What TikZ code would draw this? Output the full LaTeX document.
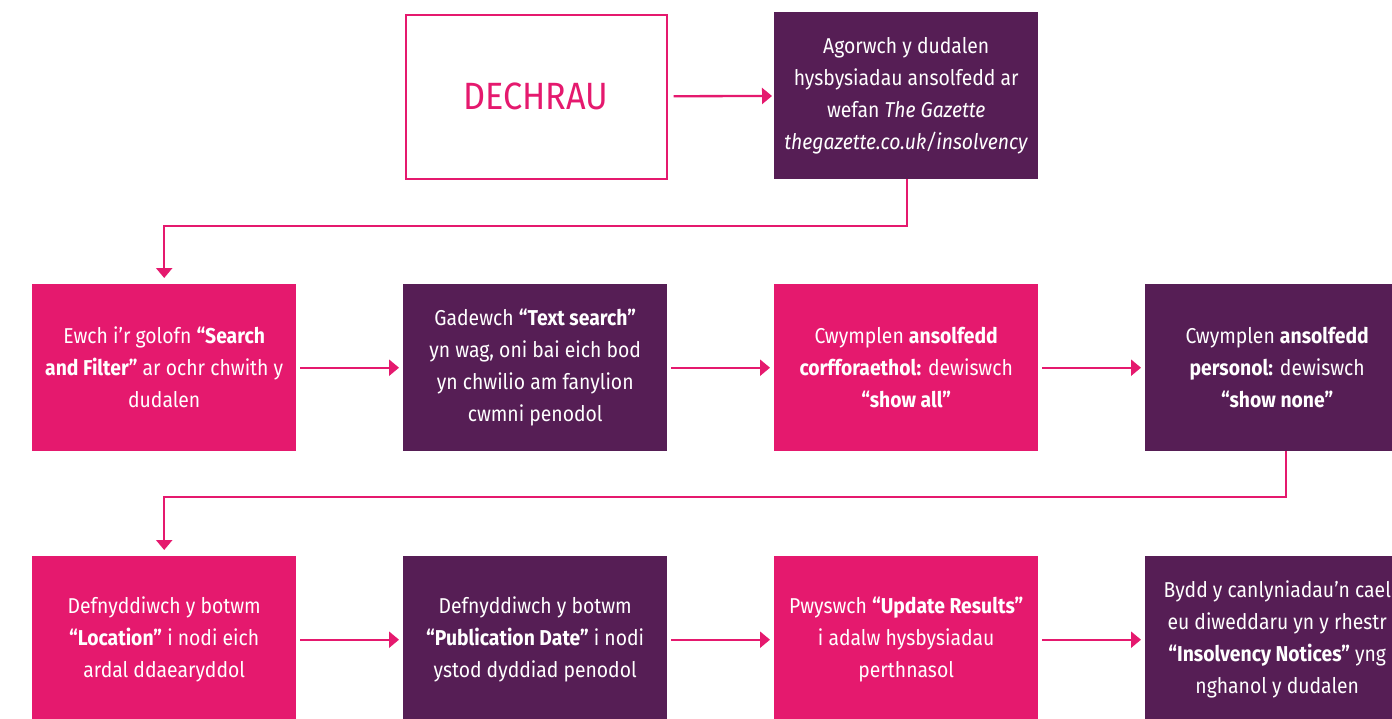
\documentclass[tikz,border=0pt]{standalone}
\usepackage{fontspec}
\setmainfont{Fira Sans}[FakeStretch=0.9]
\usetikzlibrary{arrows.meta,positioning}
\definecolor{pinkc}{HTML}{E5196E}
\definecolor{purplec}{HTML}{561E55}
\tikzset{
  base/.style={rectangle, minimum width=264pt, minimum height=167pt, inner sep=0pt, anchor=north west,
    align=center, text=white, font=\fontsize{21.5}{32}\selectfont},
  pinkbox/.style={base, fill=pinkc},
  purplebox/.style={base, fill=purplec},
  startbox/.style={base, draw=pinkc, line width=2pt, fill=white, text=pinkc,
    minimum width=261pt, minimum height=164pt, font=\fontsize{38}{40}\selectfont},
  arr/.style={draw=pinkc, line width=2.3pt, -{Triangle[length=10pt,width=16pt]}},
  harr/.style={arr, shorten <=4pt, shorten >=4pt},
}
\begin{document}
\begin{tikzpicture}[x=1pt,y=-1pt]
\useasboundingbox (0,0) rectangle (1392,718);
\clip (0,0) rectangle (1392,718);
\fill[white] (0,0) rectangle (1392,718);
% row 1
\node[startbox] (start) at (404.5,13.5) {DECHRAU};
\node[purplebox] (a2) at (774,12) {Agorwch y dudalen\\hysbysiadau ansolfedd ar\\wefan \textit{The Gazette}\\\textit{thegazette.co.uk/insolvency}};
% row 2
\node[pinkbox] (r2a) at (32,284) {Ewch i’r golofn \textbf{“Search}\\\textbf{and Filter”} ar ochr chwith y\\dudalen};
\node[purplebox] (r2b) at (403,284) {Gadewch \textbf{“Text search”}\\yn wag, oni bai eich bod\\yn chwilio am fanylion\\cwmni penodol};
\node[pinkbox] (r2c) at (774,284) {Cwymplen \textbf{ansolfedd}\\\textbf{corfforaethol:} dewiswch\\\textbf{“show all”}};
\node[purplebox] (r2d) at (1145,284) {Cwymplen \textbf{ansolfedd}\\\textbf{personol:} dewiswch\\\textbf{“show none”}};
% row 3
\node[pinkbox] (r3a) at (32,556) {Defnyddiwch y botwm\\\textbf{“Location”} i nodi eich\\ardal ddaearyddol};
\node[purplebox] (r3b) at (403,556) {Defnyddiwch y botwm\\\textbf{“Publication Date”} i nodi\\ystod dyddiad penodol};
\node[pinkbox] (r3c) at (774,556) {Pwyswch \textbf{“Update Results”}\\i adalw hysbysiadau\\perthnasol};
\node[purplebox] (r3d) at (1145,556) {Bydd y canlyniadau’n cael\\eu diweddaru yn y rhestr\\\textbf{“Insolvency Notices”} yng\\nghanol y dudalen};
% connectors
\draw[arr, shorten <=6pt, shorten >=2pt] (start) -- (a2);
\coordinate (t1) at (907,226);
\draw[arr, shorten >=6pt] (t1 |- a2.south) -- (t1) -| (r2a.north);
\draw[harr] (r2a) -- (r2b);
\draw[harr] (r2b) -- (r2c);
\draw[harr] (r2c) -- (r2d);
\coordinate (t2) at (1286,497);
\draw[arr, shorten >=6pt] (t2 |- r2d.south) -- (t2) -| (r3a.north);
\draw[harr] (r3a) -- (r3b);
\draw[harr] (r3b) -- (r3c);
\draw[harr] (r3c) -- (r3d);
\end{tikzpicture}
\end{document}
